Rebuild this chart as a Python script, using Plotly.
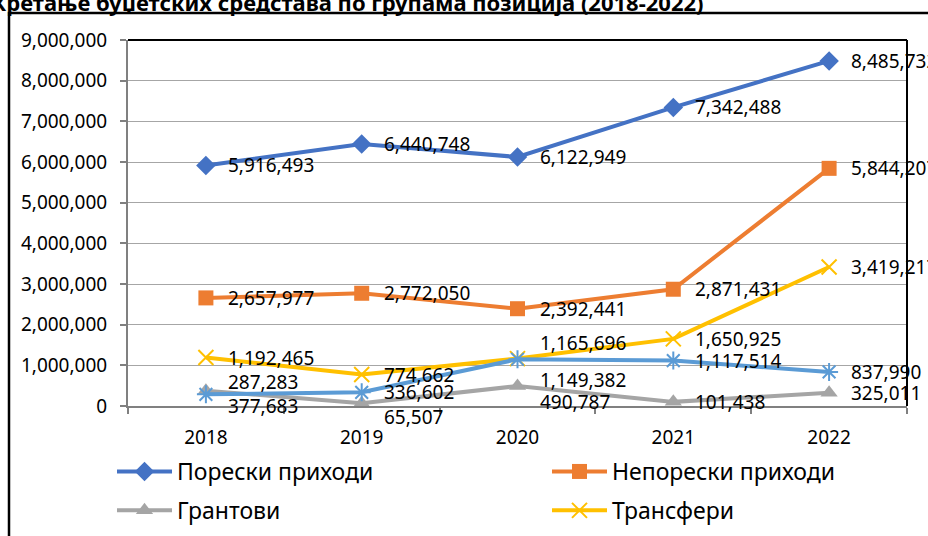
import plotly.graph_objects as go

years = ["2018", "2019", "2020", "2021", "2022"]
poreski = [5916493, 6440748, 6122949, 7342488, 8485732]
neporeski = [2657977, 2772050, 2392441, 2871431, 5844207]
grantovi = [377683, 65507, 490787, 101438, 325011]
transferi = [1192465, 774662, 1165696, 1650925, 3419217]
ostalo = [287283, 336602, 1149382, 1117514, 837990]

series_names = ["Порески приходи", "Непорески приходи", "Грантови", "Трансфери",
                "Примања од продаје нефинансијске имовине"]
title_text = "Кретање буџетских средстава по групама позиција (2018-2022)"
y_ticks = [0, 1000000, 2000000, 3000000, 4000000, 5000000, 6000000, 7000000, 8000000, 9000000]

FONT = "Noto Sans, Open Sans, DejaVu Sans, sans-serif"

# style settings (not data)
styles = [
    dict(color="#4472C4", symbol="diamond", size=15, legend="legend", lw=0),
    dict(color="#ED7D31", symbol="square", size=15, legend="legend2", lw=0),
    dict(color="#A5A5A5", symbol="triangle-up", size=15, legend="legend", lw=0),
    dict(color="#FFC000", symbol="x-thin", size=15, legend="legend2", lw=2),
    dict(color="#5B9BD5", symbol="asterisk", size=15, legend="legend", lw=2),
]
label_yshift = [
    [0, 0, 0, 0, 0],
    [0, 0, 0, 0, 0],
    [-15, -14, -16, 0, 0],
    [0, 0, 16, 0, 0],
    [12, 0, -21, 0, 0],
]

all_series = [poreski, neporeski, grantovi, transferi, ostalo]

fig = go.Figure()
for i, (vals, name, st) in enumerate(zip(all_series, series_names, styles)):
    fig.add_trace(go.Scatter(
        x=years, y=vals, name=name, mode="lines+markers",
        line=dict(color=st["color"], width=4),
        marker=dict(symbol=st["symbol"], size=st["size"], color=st["color"],
                    line=dict(color=st["color"], width=st["lw"])),
        legend=st["legend"], legendgroup=f"g{i}", cliponaxis=False,
    ))

annotations = []
for vals, shifts in zip(all_series, label_yshift):
    for xi, (v, s) in enumerate(zip(vals, shifts)):
        annotations.append(dict(
            x=xi, y=v, xref="x", yref="y", text=f"{v:,}", showarrow=False,
            xanchor="left", yanchor="middle", xshift=20, yshift=s,
            font=dict(family=FONT, size=19, color="#000000"),
        ))

annotations.append(dict(
    x=(706 - 128) / 779, y=1 + 38 / 366, xref="paper", yref="paper",
    text=f"<b>{title_text}</b>", showarrow=False, xanchor="right", yanchor="middle",
    font=dict(family=FONT, size=22, color="#000000"),
))

shapes = [
    # outer chart border
    dict(type="rect", xref="paper", yref="paper",
         x0=(9 - 128) / 779, x1=(932 - 128) / 779,
         y0=1 - (545 - 40) / 366, y1=1 + (40 - 13) / 366,
         line=dict(color="#000000", width=2.5), layer="below"),
    # plot area top and right border
    dict(type="line", xref="paper", yref="paper", x0=0, x1=1, y0=1, y1=1,
         line=dict(color="#000000", width=2)),
    dict(type="line", xref="paper", yref="paper", x0=1, x1=1, y0=0, y1=1,
         line=dict(color="#000000", width=2)),
]

fig.update_layout(
    width=928, height=536,
    margin=dict(l=128, r=21, t=40, b=130, autoexpand=False),
    paper_bgcolor="white", plot_bgcolor="white",
    font=dict(family=FONT, size=19, color="#000000"),
    showlegend=True,
    annotations=annotations,
    shapes=shapes,
    legend=dict(x=(112 - 128) / 779, y=1 - (450 - 40) / 366, xanchor="left", yanchor="top",
                orientation="v", font=dict(family=FONT, size=23, color="#000000"),
                itemwidth=55, tracegroupgap=6, bgcolor="rgba(0,0,0,0)"),
    legend2=dict(x=(547 - 128) / 779, y=1 - (450 - 40) / 366, xanchor="left", yanchor="top",
                 orientation="v", font=dict(family=FONT, size=23, color="#000000"),
                 itemwidth=55, tracegroupgap=6, bgcolor="rgba(0,0,0,0)"),
)

fig.update_xaxes(
    type="category", range=[-0.5, 4.5], tickson="boundaries",
    ticks="outside", ticklen=6, tickcolor="#808080", tickwidth=1.5,
    showline=True, linecolor="#808080", linewidth=2,
    showgrid=False, ticklabelstandoff=13,
    tickfont=dict(family=FONT, size=19, color="#000000"),
)
fig.update_yaxes(
    range=[0, 9000000], tickvals=y_ticks, tickformat=",d",
    ticks="outside", ticklen=6, tickcolor="#808080", tickwidth=1.5,
    showline=True, linecolor="#808080", linewidth=2,
    showgrid=True, gridcolor="#a6a6a6", gridwidth=1.2, zeroline=False,
    ticklabelstandoff=9,
    tickfont=dict(family=FONT, size=19, color="#000000"),
)

fig.write_html(
    "out.html",
    config={"displayModeBar": False},
    post_script="document.body.style.margin='0';document.body.style.padding='0';",
)
